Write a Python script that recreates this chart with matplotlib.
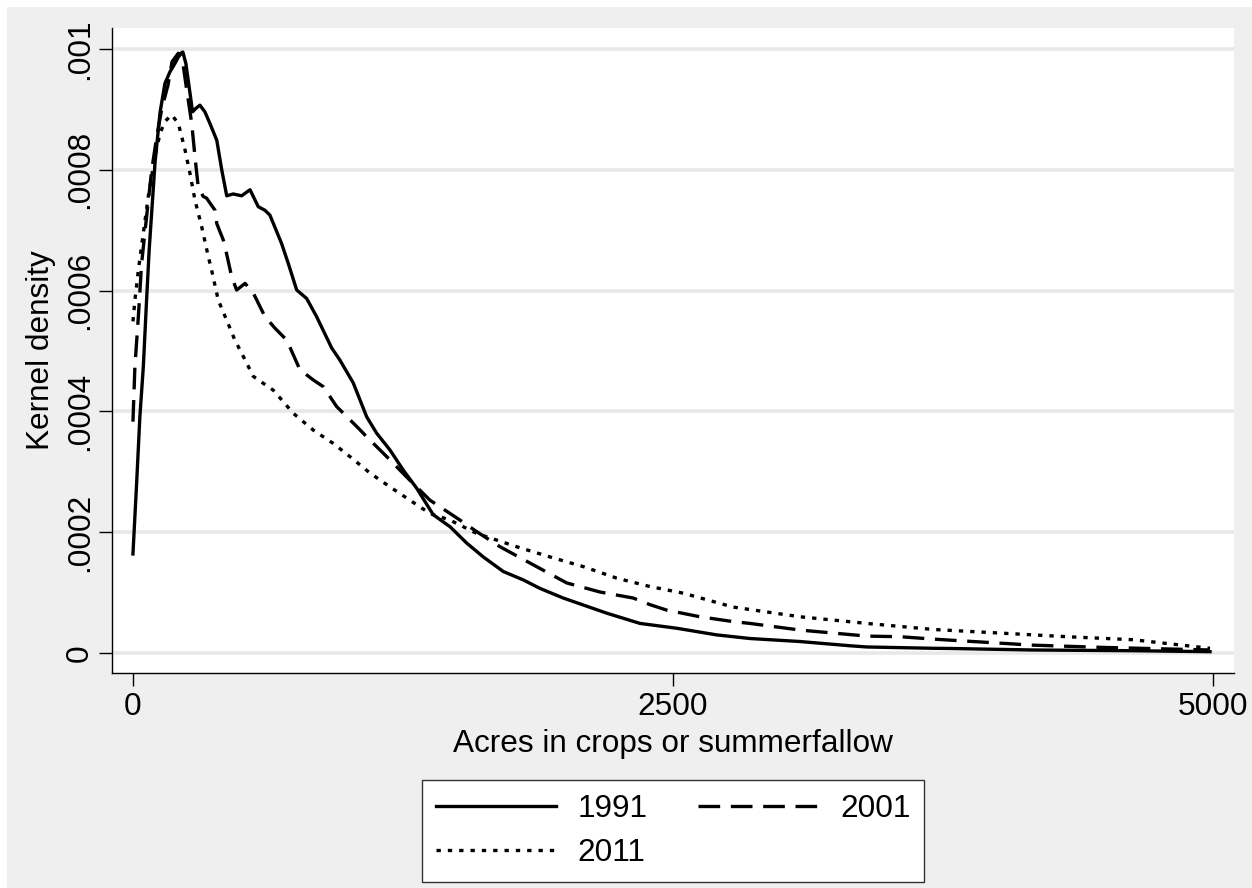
import matplotlib
matplotlib.use('Agg')
import matplotlib.pyplot as plt
from matplotlib.patches import Rectangle

plt.rcParams['font.family'] = ['Liberation Sans', 'DejaVu Sans']

# Kernel density curves (x in acres, y in density)
x_1991 = [0, 17, 32, 48, 63, 75, 102, 125, 148, 171, 194, 218, 231, 245, 259, 276, 292, 310,
          333, 356, 388, 411, 434, 464, 503, 542, 580, 611, 634, 688, 719, 758, 804, 850, 920,
          958, 1020, 1082, 1128, 1190, 1251, 1313, 1390, 1468, 1545, 1622, 1714, 1807, 1884,
          1992, 2193, 2347, 2517, 2702, 2856, 3088, 3319, 3397, 3705, 3782, 4167, 4630, 4986]
y_1991 = [1.64, 2.81, 3.91, 4.74, 5.84, 6.67, 8.11, 8.94, 9.43, 9.62, 9.76, 9.92, 9.95, 9.76,
          9.40, 8.96, 9.02, 9.07, 8.96, 8.77, 8.49, 8.00, 7.57, 7.60, 7.57, 7.67, 7.39, 7.33,
          7.25, 6.78, 6.45, 6.01, 5.87, 5.57, 5.05, 4.85, 4.47, 3.91, 3.64, 3.36, 3.03, 2.73,
          2.29, 2.09, 1.82, 1.59, 1.35, 1.21, 1.07, 0.91, 0.66, 0.49, 0.41, 0.30, 0.24, 0.19,
          0.12, 0.10, 0.078, 0.075, 0.05, 0.038, 0.022]

x_2001 = [0, 9, 25, 40, 63, 87, 110, 134, 162, 181, 210, 227, 249, 272, 287, 302, 325, 341,
          380, 388, 418, 426, 457, 480, 519, 557, 611, 657, 712, 773, 835, 881, 943, 1036,
          1082, 1175, 1282, 1375, 1468, 1514, 1591, 1699, 1853, 2008, 2162, 2316, 2394, 2471,
          2625, 2778, 2856, 3088, 3397, 3551, 3705, 4167, 4477, 4986]
y_2001 = [3.83, 4.74, 5.57, 6.45, 7.22, 8.00, 8.55, 9.02, 9.40, 9.79, 9.93, 9.87, 9.32, 8.77,
          8.22, 7.72, 7.56, 7.53, 7.33, 7.11, 6.84, 6.73, 6.23, 6.01, 6.12, 5.96, 5.57, 5.38,
          5.18, 4.69, 4.52, 4.41, 4.08, 3.75, 3.58, 3.25, 2.86, 2.53, 2.31, 2.20, 2.01, 1.76,
          1.46, 1.16, 1.01, 0.91, 0.80, 0.71, 0.60, 0.52, 0.49, 0.38, 0.28, 0.27, 0.23, 0.13,
          0.094, 0.05]

x_2011 = [0, 9, 25, 40, 71, 102, 125, 148, 179, 210, 241, 264, 287, 318, 349, 364, 395, 434,
          472, 511, 557, 650, 742, 835, 927, 1005, 1097, 1190, 1282, 1375, 1468, 1591, 1776,
          1931, 2085, 2239, 2394, 2548, 2779, 3088, 3397, 3705, 4014, 4323, 4630, 4986]
y_2011 = [5.49, 5.84, 6.34, 6.74, 7.56, 8.22, 8.60, 8.80, 8.91, 8.77, 8.33, 7.94, 7.50, 7.06,
          6.56, 6.34, 5.84, 5.51, 5.18, 4.91, 4.58, 4.35, 3.97, 3.69, 3.47, 3.25, 2.98, 2.75,
          2.53, 2.31, 2.20, 1.98, 1.76, 1.59, 1.43, 1.24, 1.10, 0.99, 0.76, 0.60, 0.49, 0.39,
          0.33, 0.27, 0.22, 0.078]

series_labels = ['1991', '2001', '2011']
x_ticks = [0, 2500, 5000]
y_ticks = [0, 0.0002, 0.0004, 0.0006, 0.0008, 0.001]
y_tick_labels = ['0', '.0002', '.0004', '.0006', '.0008', '.001']

bg = '#efefef'
fs = 22.7
fig = plt.figure(figsize=(12.52, 8.88), dpi=100, facecolor='white')
fig.patches.append(Rectangle((7 / 1252, 0), 1, 1 - 7 / 888, transform=fig.transFigure,
                             facecolor=bg, edgecolor='none', zorder=-10))

ax = fig.add_axes([112 / 1252, 1 - 673 / 888, 1122 / 1252, 645 / 888])
ax.set_facecolor('white')

scale = 1e-4
l1, = ax.plot(x_1991, [v * scale for v in y_1991], color='black', lw=2.4,
              solid_joinstyle='round', label=series_labels[0])
l2, = ax.plot(x_2001, [v * scale for v in y_2001], color='black', lw=2.4,
              dashes=(6.5, 3.2), label=series_labels[1])
l3, = ax.plot(x_2011, [v * scale for v in y_2011], color='black', lw=2.4,
              dashes=(1.3, 2.1), label=series_labels[2])

ax.set_xlim(-97, 5097)
ax.set_ylim(-0.0000331, 0.0010348)

ax.set_xticks(x_ticks)
ax.set_xticklabels([str(t) for t in x_ticks])
ax.set_yticks(y_ticks)
ax.set_yticklabels(y_tick_labels, rotation=90, va='center')

ax.grid(axis='y', color='#e8e8e8', lw=2.6)
ax.set_axisbelow(True)

for side in ['top', 'right']:
    ax.spines[side].set_visible(False)
for side in ['left', 'bottom']:
    ax.spines[side].set_color('black')
    ax.spines[side].set_linewidth(1.0)

ax.tick_params(axis='both', direction='out', length=9.5, width=1.0, labelsize=fs,
               colors='black')
ax.tick_params(axis='y', pad=3)
ax.tick_params(axis='x', pad=4)

ax.set_xlabel('Acres in crops or summerfallow', fontsize=fs, labelpad=5)
ax.set_ylabel('Kernel density', fontsize=fs)
ax.yaxis.set_label_coords(-0.05, 0.5)

leg = fig.legend([l1, l3, l2], [series_labels[0], series_labels[2], series_labels[1]],
                 ncol=2, loc='center', bbox_to_anchor=(673 / 1252, 1 - 831 / 888),
                 fontsize=fs, frameon=True, fancybox=False, framealpha=1.0,
                 handlelength=3.8, handletextpad=0.7, columnspacing=1.6,
                 labelspacing=0.42, borderpad=0.45, borderaxespad=0)
leg.get_frame().set_edgecolor('#333333')
leg.get_frame().set_linewidth(1.0)
leg.get_frame().set_facecolor('white')

plt.savefig('out.png', dpi=100, facecolor=fig.get_facecolor())
plt.close()
